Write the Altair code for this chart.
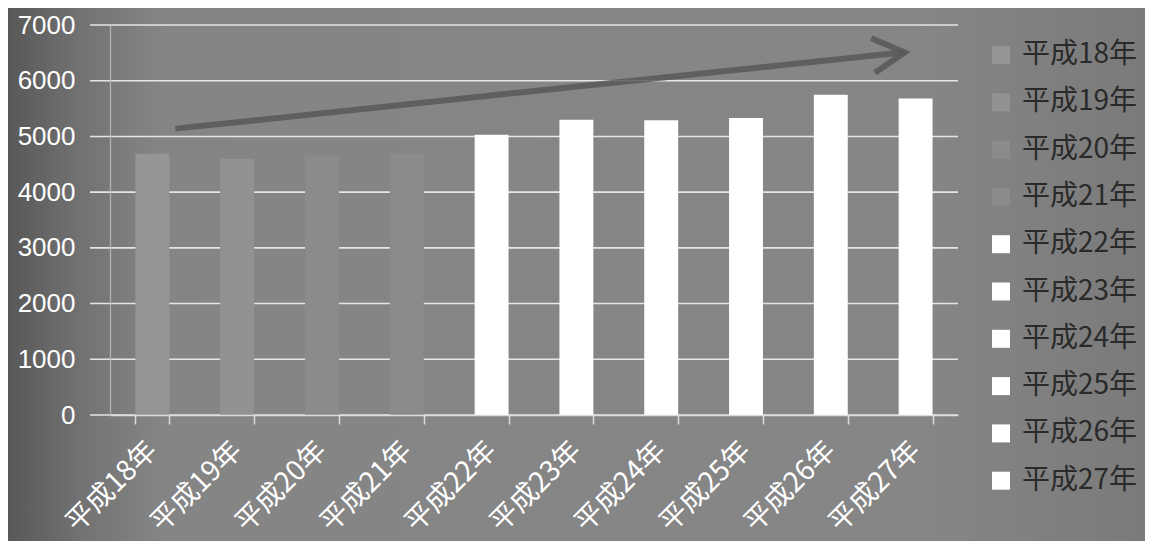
import altair as alt
import pandas as pd

categories = ["平成18年", "平成19年", "平成20年", "平成21年", "平成22年",
              "平成23年", "平成24年", "平成25年", "平成26年", "平成27年"]
values = [4690, 4600, 4650, 4700, 5030, 5300, 5290, 5330, 5750, 5680]
bar_colors = ["#969696", "#929292", "#8b8b8b", "#8b8b8b", "#ffffff",
              "#ffffff", "#ffffff", "#ffffff", "#ffffff", "#ffffff"]
y_ticks = [0, 1000, 2000, 3000, 4000, 5000, 6000, 7000]
# trend arrow (x in category units: category i spans [i, i+1])
arrow_x = [0.77, 9.37]
arrow_y = [5140, 6510]

W, H = 848, 390
PAD_L, PAD_T, PAD_R, PAD_B = 102, 17, 187, 126
FONT = "Noto Sans CJK JP"

df = pd.DataFrame({"year": categories, "value": values})
grid_df = pd.DataFrame({"value": y_ticks})
arrow_df = pd.DataFrame({"x": arrow_x, "value": arrow_y})
head_df = arrow_df.tail(1)

bg = alt.Chart(pd.DataFrame({"a": [0]})).mark_rect(
    fill=alt.Gradient(
        gradient="linear", x1=0, x2=1, y1=0, y2=0,
        stops=[alt.GradientStop(offset=0, color="#555555"),
               alt.GradientStop(offset=0.07, color="#727272"),
               alt.GradientStop(offset=0.14, color="#858585"),
               alt.GradientStop(offset=0.8, color="#868686"),
               alt.GradientStop(offset=1, color="#7a7a7a")]),
).encode(x=alt.value(-PAD_L - 8), x2=alt.value(W + PAD_R + 8),
         y=alt.value(-PAD_T - 8), y2=alt.value(H + PAD_B + 8))

yscale = alt.Scale(domain=[0, 7000])
yaxis = alt.Axis(values=y_ticks, title=None, grid=False, ticks=False,
                 format="d", labelFontSize=26, labelColor="white",
                 labelFont="Liberation Sans", domainColor="#b4b4b4",
                 domainWidth=1.2, labelPadding=35, zindex=1)

grid = alt.Chart(grid_df).mark_rule(color="#e6e6e6", strokeWidth=1.6).encode(
    y=alt.Y("value:Q", scale=yscale, axis=yaxis),
    x=alt.value(-20), x2=alt.value(W),
)

bars = alt.Chart(df).mark_bar().encode(
    x=alt.X("year:N", sort=categories,
            scale=alt.Scale(paddingInner=0.6, paddingOuter=0.3),
            axis=alt.Axis(title=None, labelAngle=-45, labelAlign="right",
                          labelBaseline="middle", labelFontSize=28,
                          labelColor="white", labelFont=FONT,
                          tickBand="extent", tickSize=9, tickColor="#dcdcdc",
                          tickWidth=1.5, domainColor="#dcdcdc", domainWidth=1.5,
                          labelPadding=22, zindex=1)),
    y=alt.Y("value:Q", scale=yscale, axis=yaxis),
    color=alt.Color("year:N", sort=categories,
                    scale=alt.Scale(domain=categories, range=bar_colors),
                    legend=alt.Legend(title=None, orient="none", legendX=877,
                                      legendY=16, labelFontSize=28,
                                      labelFont=FONT, labelColor="#2a2a2a",
                                      symbolType="square", symbolSize=324,
                                      symbolStrokeWidth=0, rowPadding=19.3,
                                      labelOffset=7)),
)

xq = alt.Scale(domain=[0, 10])
arrow_line = alt.Chart(arrow_df).mark_line(color="#585858", strokeWidth=6,
                                           opacity=0.85).encode(
    x=alt.X("x:Q", scale=xq, axis=None),
    y=alt.Y("value:Q", scale=yscale, axis=yaxis),
)
arrow_head = alt.Chart(head_df).mark_point(
    shape="M -1 -0.55 L 0 0 L -1 0.55", filled=False, strokeWidth=6,
    size=4000, angle=354, color="#585858", opacity=0.85,
).encode(
    x=alt.X("x:Q", scale=xq, axis=None),
    y=alt.Y("value:Q", scale=yscale, axis=yaxis),
)

chart = alt.layer(bg, grid, bars, arrow_line, arrow_head).resolve_scale(
    x="independent"
).properties(
    width=W, height=H,
    autosize=alt.AutoSizeParams(type="none"),
    padding={"left": PAD_L, "top": PAD_T, "right": PAD_R, "bottom": PAD_B},
    background="#808080",
).configure_view(stroke=None)

chart.save("out.html", embed_options={"renderer": "svg", "actions": False})
